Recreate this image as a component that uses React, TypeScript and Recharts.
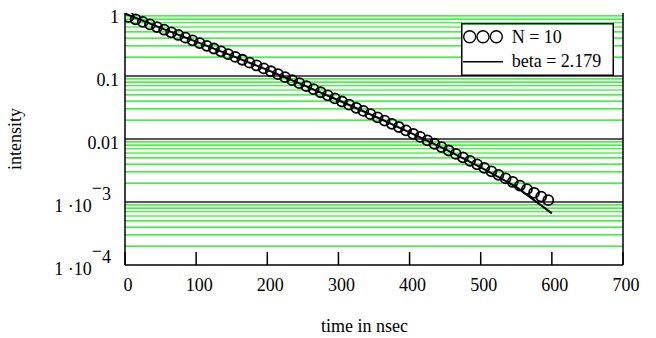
import React from 'react';
import { ComposedChart, XAxis, YAxis, Line, Scatter, ReferenceLine, Legend, Label } from 'recharts';

const FONT = '"Liberation Serif", "Times New Roman", serif';

// measured points (time in ns, intensity)
const timeNs = [
  5, 15, 25, 35, 45, 55, 65, 75, 85, 95,
  105, 115, 125, 135, 145, 155, 165, 175, 185, 195,
  205, 215, 225, 235, 245, 255, 265, 275, 285, 295,
  305, 315, 325, 335, 345, 355, 365, 375, 385, 395,
  405, 415, 425, 435, 445, 455, 465, 475, 485, 495,
  505, 515, 525, 535, 545, 555, 565, 575, 585, 595,
];
const intensity = [
  0.871, 0.794, 0.723, 0.658, 0.598, 0.543, 0.493, 0.448, 0.406, 0.368,
  0.333, 0.301, 0.273, 0.246, 0.222, 0.201, 0.181, 0.163, 0.147, 0.132,
  0.119, 0.107, 0.0958, 0.0859, 0.0769, 0.069, 0.0618, 0.0552, 0.0493, 0.0441,
  0.0394, 0.0351, 0.0313, 0.0279, 0.0248, 0.0221, 0.0196, 0.0174, 0.0155, 0.0137,
  0.0121, 0.0108, 0.00952, 0.00841, 0.00744, 0.00657, 0.00579, 0.00511, 0.0045, 0.00396,
  0.00349, 0.00307, 0.0027, 0.00237, 0.00208, 0.00182, 0.0016, 0.0014, 0.00122, 0.00107,
];

// fitted curve
const fitTime = [0, 50, 100, 150, 200, 250, 300, 350, 400, 450, 500, 550, 600];
const fitIntensity = [0.98, 0.58, 0.352, 0.211, 0.125, 0.0725, 0.0412, 0.0232, 0.0127, 0.0069, 0.00355, 0.00174, 0.000661];

const seriesNames = ['N = 10', 'beta = 2.179'];

const xTicks = [0, 100, 200, 300, 400, 500, 600, 700];
const yTicks = [0.0001, 0.001, 0.01, 0.1, 1];
const yTickBase = ['1 \u00b710', '1 \u00b710', '0.01', '0.1', '1'];
const yTickExp = ['4', '3', '', '', ''];
const majorLines = [0.1, 0.01, 0.001];
const decades = [0.0001, 0.001, 0.01, 0.1];
const minorMultipliers = [2, 3, 4, 5, 6, 7, 8, 9];
const minorLines = decades.flatMap((d) => minorMultipliers.map((m) => m * d));

const pointData = timeNs.map((t, i) => ({ t, v: intensity[i] }));
const fitData = fitTime.map((t, i) => ({ t, v: fitIntensity[i] }));

const XTickBottom = (props: any) => {
  const { x, y, payload } = props;
  return (
    <g>
      <line x1={x} x2={x} y1={y} y2={y - 13} stroke="#000" strokeWidth={1.5} />
      <text x={x + 3} y={y + 25.5} textAnchor="middle" fontSize={18} style={{ fontFamily: FONT }} fill="#000">
        {payload.value}
      </text>
    </g>
  );
};

const XTickTop = (props: any) => {
  const { x, y } = props;
  return <line x1={x} x2={x} y1={y} y2={y + 13} stroke="#000" strokeWidth={1.5} />;
};

const YTick = (props: any) => {
  const { x, y, payload } = props;
  const i = yTicks.indexOf(payload.value);
  if (i < 0) return null;
  const base = yTickBase[i];
  const exp = yTickExp[i];
  const by = y + 10;
  if (exp) {
    return (
      <text x={x - 14} y={by} textAnchor="end" fontSize={18} style={{ fontFamily: FONT }} fill="#000">
        {base}
        <tspan dy={-18}>{'\u2212'}</tspan>
        <tspan dy={6}>{exp}</tspan>
      </text>
    );
  }
  return (
    <text x={x - 6} y={by} textAnchor="end" fontSize={18} style={{ fontFamily: FONT }} fill="#000">
      {base}
    </text>
  );
};

const LegendBox = () => (
  <svg width={153} height={53} style={{ display: 'block' }}>
    <rect x={0.75} y={0.75} width={151.5} height={51.5} fill="#fff" stroke="#000" strokeWidth={1.5} />
    <circle cx={8.7} cy={13.7} r={6} fill="none" stroke="#000" strokeWidth={1.4} />
    <circle cx={22} cy={13.7} r={6} fill="none" stroke="#000" strokeWidth={1.4} />
    <circle cx={35.3} cy={13.7} r={6} fill="none" stroke="#000" strokeWidth={1.4} />
    <text x={50.7} y={19.7} fontSize={18} style={{ fontFamily: FONT }} fill="#000">{seriesNames[0]}</text>
    <line x1={2} x2={42} y1={38.7} y2={38.7} stroke="#000" strokeWidth={1.5} />
    <text x={50.7} y={43.7} fontSize={18} style={{ fontFamily: FONT }} fill="#000">{seriesNames[1]}</text>
  </svg>
);

const XLabel = (props: any) => {
  const vb = props.viewBox || {};
  return (
    <text x={vb.x + vb.width / 2 - 9.5} y={332} textAnchor="middle" fontSize={18} style={{ fontFamily: FONT }} fill="#000">
      time in nsec
    </text>
  );
};

const YLabel = (props: any) => {
  const vb = props.viewBox || {};
  const cy = vb.y + vb.height / 2;
  return (
    <text x={21} y={cy} transform={`rotate(-90 21 ${cy})`} textAnchor="middle" fontSize={18} style={{ fontFamily: FONT }} fill="#000">
      intensity
    </text>
  );
};

const CircleShape = (props: any) => (
  <circle cx={props.cx} cy={props.cy} r={5} fill="none" stroke="#000" strokeWidth={1.8} />
);

export default function App() {
  return (
    <div style={{ position: 'absolute', left: 0, top: 0, width: 656, height: 338, background: '#fff', fontFamily: FONT }}>
      <ComposedChart width={656} height={338} margin={{ top: 13, right: 33, bottom: 43, left: 0 }}>
        <XAxis
          xAxisId={0}
          type="number"
          dataKey="t"
          domain={[0, 700]}
          ticks={xTicks}
          allowDataOverflow
          height={30}
          tickSize={0}
          tickMargin={0}
          axisLine={{ stroke: '#000', strokeWidth: 1.5 }}
          tickLine={false}
          tick={<XTickBottom />}
          interval={0}
        >
          <Label content={<XLabel />} />
        </XAxis>
        <XAxis
          xAxisId="top"
          orientation="top"
          type="number"
          dataKey="t"
          domain={[0, 700]}
          ticks={xTicks}
          allowDataOverflow
          height={0}
          tickSize={0}
          tickMargin={0}
          axisLine={{ stroke: '#000', strokeWidth: 1.5 }}
          tickLine={false}
          tick={<XTickTop />}
          interval={0}
        />
        <YAxis
          type="number"
          scale="log"
          dataKey="v"
          domain={[0.0001, 1]}
          ticks={yTicks}
          allowDataOverflow
          width={125}
          tickSize={0}
          tickMargin={0}
          axisLine={{ stroke: '#000', strokeWidth: 1.5 }}
          tickLine={false}
          tick={<YTick />}
          interval={0}
        >
          <Label content={<YLabel />} />
        </YAxis>
        {minorLines.map((v) => (
          <ReferenceLine key={`mi${v}`} y={v} stroke="#00f000" strokeWidth={1.2} />
        ))}
        {majorLines.map((v) => (
          <ReferenceLine key={`ma${v}`} y={v} stroke="#222" strokeWidth={1.5} />
        ))}
        <ReferenceLine x={700} stroke="#000" strokeWidth={1.5} />
        <Line
          data={fitData}
          dataKey="v"
          name={seriesNames[1]}
          type="linear"
          stroke="#000"
          strokeWidth={2}
          dot={false}
          isAnimationActive={false}
        />
        <Scatter
          data={pointData}
          dataKey="v"
          name={seriesNames[0]}
          shape={<CircleShape />}
          isAnimationActive={false}
        />
        <Legend
          layout="horizontal"
          verticalAlign="middle"
          align="center"
          wrapperStyle={{ position: 'absolute', left: 461, top: 23, width: 153, height: 53, margin: 0, padding: 0 }}
          content={<LegendBox />}
        />
      </ComposedChart>
    </div>
  );
}
